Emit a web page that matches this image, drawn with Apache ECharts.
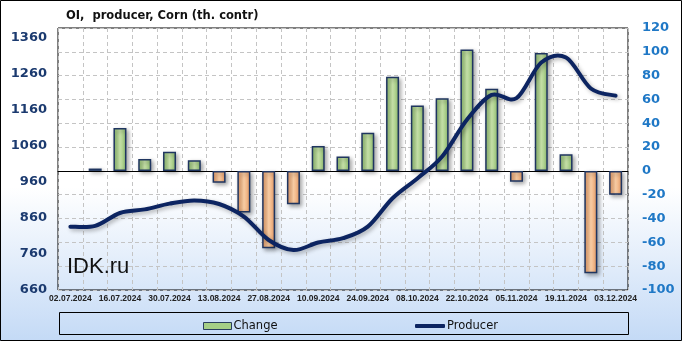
<!DOCTYPE html>
<html>
<head>
<meta charset="utf-8">
<script src="https://cdn.jsdelivr.net/npm/echarts@6/dist/echarts.min.js"></script>
<style>
html,body{margin:0;padding:0;background:#fff;}
#chart{width:682px;height:341px;}
</style>
</head>
<body>
<div id="chart"></div>
<script>
var categories = ['02.07.2024','09.07.2024','16.07.2024','23.07.2024','30.07.2024','06.08.2024','13.08.2024','20.08.2024','27.08.2024','03.09.2024','10.09.2024','17.09.2024','24.09.2024','01.10.2024','08.10.2024','15.10.2024','22.10.2024','29.10.2024','05.11.2024','12.11.2024','19.11.2024','26.11.2024','03.12.2024'];
var changeValues = [null, 2, 36, 10, 16, 9, -10, -35, -65, -28, 21, 12, 32, 79, 55, 61, 102, 69, -9, 99, 14, -86, -20];
var producerValues = [836, 838, 874, 884, 900, 909, 899, 864, 799, 771, 792, 804, 836, 915, 970, 1031, 1133, 1202, 1193, 1292, 1306, 1220, 1200];
var leftTicks = [660, 760, 860, 960, 1060, 1160, 1260, 1360];
var rightTicks = [-100, -80, -60, -40, -20, 0, 20, 40, 60, 80, 100, 120];

var chart = echarts.init(document.getElementById('chart'), null, {renderer: 'canvas'});

function hGrad(edge, mid) {
  return new echarts.graphic.LinearGradient(0, 0, 1, 0, [
    {offset: 0, color: edge}, {offset: 0.5, color: mid}, {offset: 1, color: edge}
  ]);
}
var greenFill = hGrad('#8dbb6c', '#c8e3aa');
var orangeFill = hGrad('#e79a64', '#fbcfa6');

// Smooth (Catmull-Rom style) path through points projected by the axes
function smoothPath(pts) {
  var d = 'M' + pts[0][0] + ' ' + pts[0][1];
  for (var i = 0; i < pts.length - 1; i++) {
    var p0 = pts[i - 1] || pts[i], p1 = pts[i], p2 = pts[i + 1], p3 = pts[i + 2] || pts[i + 1];
    var c1x = p1[0] + (p2[0] - p0[0]) / 6, c1y = p1[1] + (p2[1] - p0[1]) / 6;
    var c2x = p2[0] - (p3[0] - p1[0]) / 6, c2y = p2[1] - (p3[1] - p1[1]) / 6;
    d += ' C' + c1x + ' ' + c1y + ' ' + c2x + ' ' + c2y + ' ' + p2[0] + ' ' + p2[1];
  }
  return d;
}

var option = {
  animation: false,
  backgroundColor: new echarts.graphic.LinearGradient(0, 0, 0, 1, [
    {offset: 0, color: '#ffffff'}, {offset: 0.55, color: '#ffffff'}, {offset: 1, color: '#c4daf6'}
  ]),
  title: {
    text: 'OI,  producer, Corn (th. contr)',
    left: 61, top: 5,
    textStyle: {fontFamily: 'DejaVu Sans', fontWeight: 'bold', fontSize: 11.5, color: '#111'}
  },
  legend: [
    {
      data: [{name: 'Change', icon: 'rect', itemStyle: {color: '#a6cf86', borderColor: '#2b3f5f', borderWidth: 1}}],
      left: 198, top: 315, itemWidth: 28, itemHeight: 7, itemGap: 2,
      textStyle: {fontFamily: 'DejaVu Sans', fontSize: 11.5, color: '#111', padding: [0,0,0,-3]}
    },
    {
      data: [{name: 'Producer', icon: 'roundRect', itemStyle: {color: '#0c2461', borderWidth: 0}}],
      left: 410, top: 315, itemWidth: 30, itemHeight: 4,
      textStyle: {fontFamily: 'DejaVu Sans', fontSize: 11.5, color: '#111', padding: [0,0,0,-3]}
    }
  ],
  grid: {left: 58, right: 54, top: 28, bottom: 51, show: true, borderColor: '#000', borderWidth: 1, backgroundColor: 'transparent'},
  xAxis: {
    type: 'category',
    data: categories,
    boundaryGap: true,
    axisLine: {show: true, lineStyle: {color: '#000'}},
    axisTick: {show: false},
    axisLabel: {interval: 1, margin: 4, hideOverlap: false, showMinLabel: true, showMaxLabel: true,
      fontFamily: 'Liberation Sans', fontWeight: 'bold', fontSize: 8.5, color: '#222'},
    splitLine: {show: true, interval: 0, lineStyle: {type: [4, 3], color: '#c4c4c4', width: 1}}
  },
  yAxis: [
    {
      type: 'value', min: 660, max: 1388, interval: 20,
      axisLine: {show: false}, axisTick: {show: false},
      splitLine: {show: false},
      axisLabel: {
        margin: 11, fontFamily: 'DejaVu Sans', fontWeight: 'bold', fontSize: 13, color: '#1b3a6f',
        formatter: function (v) { return leftTicks.indexOf(Math.round(v)) >= 0 ? String(Math.round(v)) : ''; }
      }
    },
    {
      type: 'value', min: -100, max: 120, interval: 20, position: 'right',
      axisLine: {show: false}, axisTick: {show: false},
      splitLine: {show: true, lineStyle: {type: [4, 3], color: '#c4c4c4', width: 1}},
      axisLabel: {
        margin: 14, fontFamily: 'DejaVu Sans', fontWeight: 'bold', fontSize: 13, color: '#1f78c6',
        formatter: function (v) { return rightTicks.indexOf(v) >= 0 ? String(v) : ''; }
      }
    }
  ],
  series: [
    {
      name: 'Change', type: 'bar', yAxisIndex: 1, barWidth: 13,
      data: changeValues,
      itemStyle: {
        color: function (p) { return p.value >= 0 ? greenFill : orangeFill; },
        borderColor: '#1f3560', borderWidth: 1.5,
        shadowColor: 'rgba(0,0,0,0.35)', shadowBlur: 4, shadowOffsetX: 2, shadowOffsetY: 2
      }
    },
    {
      name: 'Producer', type: 'custom', yAxisIndex: 0, z: 5,
      data: producerValues.map(function (v, i) { return [i, v]; }),
      encode: {x: 0, y: 1},
      itemStyle: {color: '#0c2461'},
      renderItem: function (params, api) {
        if (params.dataIndex !== 0) return null;
        var pts = producerValues.map(function (v, i) { return api.coord([i, v]); });
        return {
          type: 'path',
          shape: {pathData: smoothPath(pts)},
          style: {fill: 'none', stroke: '#0c2461', lineWidth: 4, lineCap: 'round', lineJoin: 'round',
            shadowColor: 'rgba(0,0,0,0.3)', shadowBlur: 4, shadowOffsetX: 2, shadowOffsetY: 2}
        };
      }
    }
  ],
  graphic: [
    {type: 'rect', silent: true, z: -1, shape: {x: 59.5, y: 312.5, width: 569, height: 22},
     style: {fill: 'transparent', stroke: '#000', lineWidth: 1}},
    {type: 'rect', silent: true, z: 100, shape: {x: 0.5, y: 0.5, width: 681, height: 340},
     style: {fill: 'transparent', stroke: '#000', lineWidth: 1}},
    {type: 'text', silent: true, z: 100, left: 67, top: 256,
     style: {text: 'IDK.ru', font: '22px "Liberation Sans"', fill: '#111'}}
  ]
};
chart.setOption(option);
</script>
</body>
</html>
